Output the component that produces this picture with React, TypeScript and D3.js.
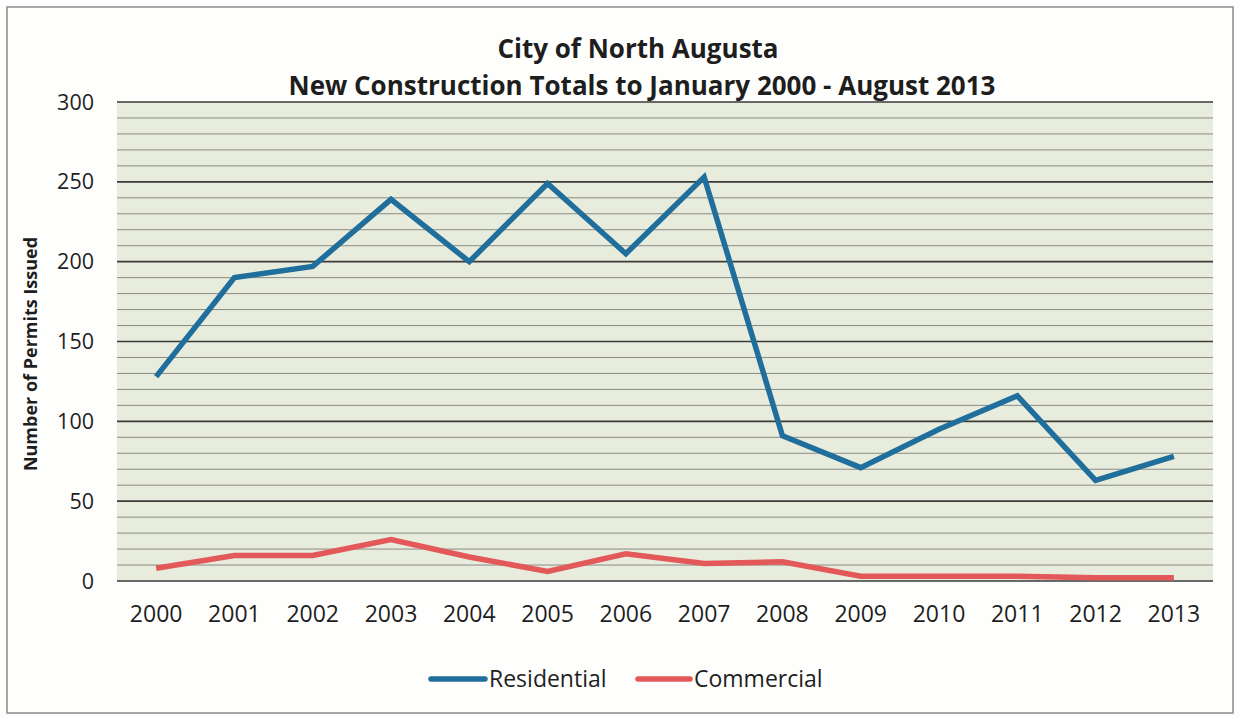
import React from "react";
import * as d3 from "d3";

const years = ["2000","2001","2002","2003","2004","2005","2006","2007","2008","2009","2010","2011","2012","2013"];
const residential = [128,190,197,239,200,249,205,253,91,71,95,116,63,78];
const commercial = [8,16,16,26,15,6,17,11,12,3,3,3,2,2];
const yTicks = [0,50,100,150,200,250,300];
const minorTicks = d3.range(0, 301, 10);

const W = 1240, H = 718;
const left = 117, right = 1213, top = 102, bottom = 581;
const font = "'Open Sans', sans-serif";

export default function App() {
  const x = d3.scaleBand().domain(years).range([left, right]);
  const y = d3.scaleLinear().domain([0, 300]).range([bottom, top]);
  const line = d3.line<number>()
    .x((_, i) => (x(years[i]) as number) + x.bandwidth() / 2)
    .y((d) => y(d));
  return (
    <svg width={W} height={H} style={{ position: "absolute", left: 0, top: 0, background: "#fdfdfc" }}>
      <rect x={7} y={7} width={1226} height={706} fill="#fefefd" stroke="#8a8a8a" strokeWidth={1.5} />
      <rect x={left} y={top} width={right - left} height={bottom - top} fill="#e8ecdd" />
      {minorTicks.map((t) => (
        <line key={"m" + t} x1={left} x2={right} y1={y(t)} y2={y(t)}
          stroke={t % 50 === 0 ? "#3a3a3a" : "#8a8a85"} strokeWidth={t % 50 === 0 ? 1.6 : 1} />
      ))}
      {yTicks.map((t) => (
        <text key={"y" + t} x={94} y={y(t)} dy="0.35em" textAnchor="end" fontFamily={font} fontSize={21.5} fill="#1e1e1e">{t}</text>
      ))}
      {years.map((yr) => (
        <text key={yr} x={(x(yr) as number) + x.bandwidth() / 2} y={622} textAnchor="middle" fontFamily={font} fontSize={23} fill="#1e1e1e">{yr}</text>
      ))}
      <text transform={`translate(37,${354}) rotate(-90)`} textAnchor="middle" fontFamily={font} fontWeight="bold" fontSize={18} fill="#1e1e1e">Number of Permits  Issued</text>
      <text x={638} y={58} textAnchor="middle" fontFamily={font} fontWeight="bold" fontSize={26} fill="#1e1e1e">City of North Augusta</text>
      <text x={642} y={95} textAnchor="middle" fontFamily={font} fontWeight="bold" fontSize={26} fill="#1e1e1e">New Construction Totals to January 2000 - August 2013</text>
      <path d={line(residential) || ""} fill="none" stroke="#1f6e9c" strokeWidth={5.5} strokeLinejoin="miter" />
      <path d={line(commercial) || ""} fill="none" stroke="#e35858" strokeWidth={5.5} strokeLinejoin="miter" />
      <line x1={431} x2={485} y1={679} y2={679} stroke="#1f6e9c" strokeWidth={5.5} strokeLinecap="round" />
      <text x={489} y={679} dy="0.35em" fontFamily={font} fontSize={23} fill="#1e1e1e">Residential</text>
      <line x1={638} x2={690} y1={679} y2={679} stroke="#e35858" strokeWidth={5.5} strokeLinecap="round" />
      <text x={694} y={679} dy="0.35em" fontFamily={font} fontSize={23} fill="#1e1e1e">Commercial</text>
    </svg>
  );
}
